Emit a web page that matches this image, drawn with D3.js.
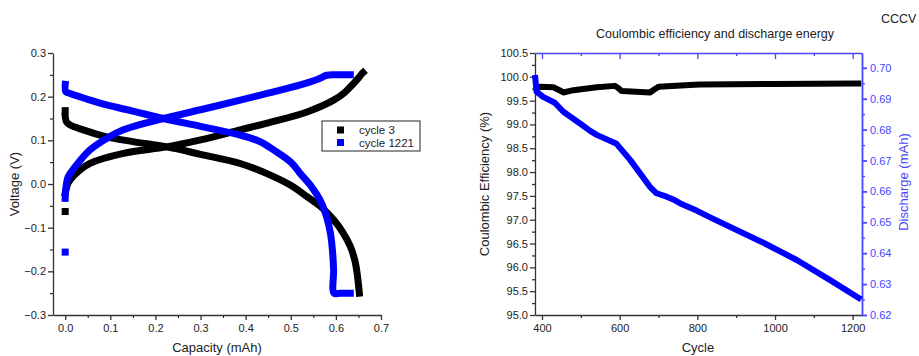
<!DOCTYPE html>
<html>
<head>
<meta charset="utf-8">
<script src="https://cdn.jsdelivr.net/npm/d3@7"></script>
<style>
  body { margin: 0; background: #fff; }
  svg text { font-family: "Liberation Sans", Arial, sans-serif; }
</style>
</head>
<body>
<div class="canvas"></div>
<script>
var width = 919,
    height = 356;

var svg = d3.select(".canvas").append("svg")
    .attr("width", width)
    .attr("height", height);

// ---- left chart data (capacity mAh / voltage V) ----
var c3ChargeCap = [0, 0.002, 0.007, 0.02, 0.055, 0.129, 0.225, 0.3, 0.388, 0.45, 0.536, 0.595, 0.62, 0.639, 0.652, 0.658, 0.66];
var c3ChargeV   = [-0.021, -0.012, 0.003, 0.02, 0.047, 0.070, 0.085, 0.101, 0.124, 0.140, 0.165, 0.192, 0.21, 0.230, 0.245, 0.253, 0.255];
var c3DisCap = [0, 0.003, 0.011, 0.04, 0.092, 0.15, 0.225, 0.3, 0.388, 0.462, 0.5, 0.536, 0.57, 0.595, 0.615, 0.632, 0.642, 0.647, 0.650, 0.652];
var c3DisV   = [0.155, 0.142, 0.135, 0.124, 0.108, 0.097, 0.085, 0.068, 0.047, 0.017, -0.003, -0.029, -0.055, -0.082, -0.110, -0.143, -0.175, -0.204, -0.230, -0.250];
var c3LoneCap = [0, 0];
var c3LoneV   = [-0.063, 0.168];

var c1221ChargeCap = [0, 0.002, 0.006, 0.011, 0.03, 0.055, 0.09, 0.129, 0.218, 0.3, 0.388, 0.45, 0.521, 0.56, 0.580, 0.6, 0.632];
var c1221ChargeV   = [-0.033, -0.005, 0.015, 0.024, 0.05, 0.078, 0.103, 0.124, 0.150, 0.170, 0.192, 0.208, 0.227, 0.240, 0.249, 0.25, 0.25];
var c1221DisCap = [0, 0.001, 0.011, 0.05, 0.092, 0.15, 0.218, 0.3, 0.388, 0.43, 0.462, 0.5, 0.521, 0.545, 0.565, 0.578, 0.588, 0.593, 0.595, 0.596, 0.61, 0.632];
var c1221DisV   = [0.228, 0.212, 0.207, 0.194, 0.181, 0.167, 0.150, 0.132, 0.112, 0.098, 0.078, 0.050, 0.024, -0.005, -0.037, -0.07, -0.113, -0.16, -0.197, -0.25, -0.25, -0.25];
var c1221LoneCap = [0];
var c1221LoneV   = [-0.156];

var legendLabels = ["cycle 3", "cycle 1221"];
var capTicks = [0, 0.1, 0.2, 0.3, 0.4, 0.5, 0.6, 0.7];
var voltTicks = [-0.3, -0.2, -0.1, 0, 0.1, 0.2, 0.3];

// ---- right chart data (cycle / CE % / discharge mAh) ----
var ceCycle = [382, 395, 429, 445, 455, 481, 541, 588, 597, 605, 678, 690, 700, 781, 807, 995, 1210, 1222];
var ceValue = [99.74, 99.79, 99.78, 99.72, 99.67, 99.72, 99.78, 99.81, 99.76, 99.70, 99.67, 99.74, 99.79, 99.83, 99.84, 99.85, 99.86, 99.86];
var disCycle = [382, 386, 403, 433, 455, 498, 524, 541, 592, 627, 678, 695, 721, 738, 755, 798, 841, 970, 1056, 1142, 1222];
var disValue = [0.6977, 0.6923, 0.6906, 0.6887, 0.6858, 0.6820, 0.6796, 0.6783, 0.6754, 0.6702, 0.6615, 0.6594, 0.6583, 0.6574, 0.6562, 0.6538, 0.6511, 0.6434, 0.6378, 0.6313, 0.6250];
var cycleTicks = [400, 600, 800, 1000, 1200];
var ceTicks = [95.0, 95.5, 96.0, 96.5, 97.0, 97.5, 98.0, 98.5, 99.0, 99.5, 100.0, 100.5];
var disTicks = [0.62, 0.63, 0.64, 0.65, 0.66, 0.67, 0.68, 0.69, 0.70];

var blueAxis = "#4646ff";

function zip(a, b) {
    return a.map(function (v, i) { return [v, b[i]]; });
}

// ================= left chart =================
var lx = d3.scaleLinear().domain([-0.027, 0.7]).range([53, 381]);
var ly = d3.scaleLinear().domain([-0.3, 0.3]).range([315, 53]);

var left = svg.append("g");

// minor ticks first
left.append("g")
    .attr("transform", "translate(0,315)")
    .call(d3.axisBottom(lx).tickValues(d3.range(0.05, 0.7, 0.1)).tickSize(3).tickFormat(""))
    .call(function (g) { g.select(".domain").remove(); });
left.append("g")
    .attr("transform", "translate(53,0)")
    .call(d3.axisLeft(ly).tickValues(d3.range(-0.25, 0.3, 0.1)).tickSize(3).tickFormat(""))
    .call(function (g) { g.select(".domain").remove(); });

var lxAxis = left.append("g")
    .attr("transform", "translate(0,315)")
    .call(d3.axisBottom(lx).tickValues(capTicks).tickSize(5).tickSizeOuter(0).tickFormat(d3.format(".1f")));
var lyAxis = left.append("g")
    .attr("transform", "translate(53,0)")
    .call(d3.axisLeft(ly).tickValues(voltTicks).tickSize(5).tickSizeOuter(0).tickFormat(d3.format(".1f")));

[lxAxis, lyAxis].forEach(function (g) {
    g.selectAll("path, line").attr("stroke", "#333").attr("stroke-width", 1.3);
    g.selectAll("text").attr("font-size", 11).attr("fill", "#222");
});
lyAxis.selectAll("text").attr("x", -7);
lxAxis.selectAll("text").attr("y", 9);

left.append("text")
    .attr("transform", "translate(19,184) rotate(-90)")
    .attr("text-anchor", "middle")
    .attr("font-size", 13)
    .attr("fill", "#222")
    .text("Voltage (V)");
left.append("text")
    .attr("x", 217).attr("y", 352)
    .attr("text-anchor", "middle")
    .attr("font-size", 13)
    .attr("fill", "#222")
    .text("Capacity (mAh)");

var capLine = d3.line()
    .x(function (d) { return lx(d[0]); })
    .y(function (d) { return ly(d[1]); })
    .curve(d3.curveCatmullRom.alpha(0.5));

var leftSeries = [
    { cap: c3ChargeCap, v: c3ChargeV, color: "#000" },
    { cap: c3DisCap, v: c3DisV, color: "#000" },
    { cap: c1221ChargeCap, v: c1221ChargeV, color: "#0000ff" },
    { cap: c1221DisCap, v: c1221DisV, color: "#0000ff" }
];
leftSeries.forEach(function (s) {
    left.append("path")
        .datum(zip(s.cap, s.v))
        .attr("d", capLine)
        .attr("fill", "none")
        .attr("stroke", s.color)
        .attr("stroke-width", 7)
        .attr("stroke-linecap", "square")
        .attr("stroke-linejoin", "round");
});

var lonePts = [
    { cap: c3LoneCap, v: c3LoneV, color: "#000" },
    { cap: c1221LoneCap, v: c1221LoneV, color: "#0000ff" }
];
lonePts.forEach(function (s) {
    left.selectAll(null)
        .data(zip(s.cap, s.v))
        .enter().append("rect")
        .attr("x", function (d) { return lx(d[0]) - 3.5; })
        .attr("y", function (d) { return ly(d[1]) - 3.5; })
        .attr("width", 7)
        .attr("height", 7)
        .attr("fill", s.color);
});

// legend
var legend = left.append("g").attr("transform", "translate(322,121)");
legend.append("rect")
    .attr("width", 98).attr("height", 30)
    .attr("fill", "#fff").attr("stroke", "#222").attr("stroke-width", 1);
legendLabels.forEach(function (lab, i) {
    legend.append("rect")
        .attr("x", 15).attr("y", 9 + i * 12.5 - 3.5)
        .attr("width", 7).attr("height", 7)
        .attr("fill", i == 0 ? "#000" : "#0000ff");
    legend.append("text")
        .attr("x", 37).attr("y", 9 + i * 12.5 + 4)
        .attr("font-size", 11.5)
        .attr("fill", "#222")
        .text(lab);
});

// ================= right chart =================
var rx = d3.scaleLinear().domain([382, 1224]).range([535, 862]);
var ryL = d3.scaleLinear().domain([95, 100.5]).range([315, 53]);
var ryR = d3.scaleLinear().domain([0.62, 0.7048]).range([315, 53]);

var right = svg.append("g");

// minor ticks
right.append("g")
    .attr("transform", "translate(0,315)")
    .call(d3.axisBottom(rx).tickValues([500, 700, 900, 1100]).tickSize(3).tickFormat(""))
    .call(function (g) { g.select(".domain").remove(); g.selectAll("line").attr("stroke", "#333").attr("stroke-width", 1.3); });
right.append("g")
    .attr("transform", "translate(0,53)")
    .call(d3.axisBottom(rx).tickValues([500, 700, 900, 1100]).tickSize(3).tickFormat(""))
    .call(function (g) { g.select(".domain").remove(); g.selectAll("line").attr("stroke", blueAxis).attr("stroke-width", 1.3); });
right.append("g")
    .attr("transform", "translate(535,0)")
    .call(d3.axisLeft(ryL).tickValues(d3.range(95.25, 100.5, 0.5)).tickSize(3).tickFormat(""))
    .call(function (g) { g.select(".domain").remove(); g.selectAll("line").attr("stroke", "#333").attr("stroke-width", 1.3); });
right.append("g")
    .attr("transform", "translate(862,0)")
    .call(d3.axisRight(ryR).tickValues(d3.range(0.625, 0.70, 0.01)).tickSize(3).tickFormat(""))
    .call(function (g) { g.select(".domain").remove(); g.selectAll("line").attr("stroke", blueAxis).attr("stroke-width", 1.3); });

// top axis (blue, inward ticks)
var rTop = right.append("g")
    .attr("transform", "translate(0,53)")
    .call(d3.axisBottom(rx).tickValues(cycleTicks).tickSize(6).tickSizeOuter(0).tickFormat(""));
rTop.selectAll("path, line").attr("stroke", blueAxis).attr("stroke-width", 1.3);

var rxAxis = right.append("g")
    .attr("transform", "translate(0,315)")
    .call(d3.axisBottom(rx).tickValues(cycleTicks).tickSize(5).tickSizeOuter(0).tickFormat(d3.format("d")));
var ryLAxis = right.append("g")
    .attr("transform", "translate(535,0)")
    .call(d3.axisLeft(ryL).tickValues(ceTicks).tickSize(5).tickSizeOuter(0).tickFormat(d3.format(".1f")));
var ryRAxis = right.append("g")
    .attr("transform", "translate(862,0)")
    .call(d3.axisRight(ryR).tickValues(disTicks).tickSize(5).tickSizeOuter(0).tickFormat(d3.format(".2f")));

[rxAxis, ryLAxis].forEach(function (g) {
    g.selectAll("path, line").attr("stroke", "#333").attr("stroke-width", 1.3);
    g.selectAll("text").attr("font-size", 11).attr("fill", "#222");
});
ryRAxis.selectAll("path, line").attr("stroke", blueAxis).attr("stroke-width", 1.8);
ryRAxis.selectAll("text").attr("font-size", 11).attr("fill", blueAxis).attr("x", 8);
ryLAxis.selectAll("text").attr("x", -7);
rxAxis.selectAll("text").attr("y", 9);

right.append("text")
    .attr("transform", "translate(489,184) rotate(-90)")
    .attr("text-anchor", "middle")
    .attr("font-size", 13)
    .attr("fill", "#222")
    .text("Coulombic Efficiency (%)");
right.append("text")
    .attr("transform", "translate(908,182) rotate(-90)")
    .attr("text-anchor", "middle")
    .attr("font-size", 13)
    .attr("fill", blueAxis)
    .text("Discharge (mAh)");
right.append("text")
    .attr("x", 698).attr("y", 352)
    .attr("text-anchor", "middle")
    .attr("font-size", 13)
    .attr("fill", "#222")
    .text("Cycle");
right.append("text")
    .attr("x", 715).attr("y", 38)
    .attr("text-anchor", "middle")
    .attr("font-size", 12.5)
    .attr("fill", "#222")
    .text("Coulombic efficiency and discharge energy");
svg.append("text")
    .attr("x", 881).attr("y", 23)
    .attr("font-size", 12.5)
    .attr("fill", "#222")
    .text("CCCV");

var ceLine = d3.line()
    .x(function (d) { return rx(d[0]); })
    .y(function (d) { return ryL(d[1]); });
var disLine = d3.line()
    .x(function (d) { return rx(d[0]); })
    .y(function (d) { return ryR(d[1]); });

right.append("path")
    .datum(zip(ceCycle, ceValue))
    .attr("d", ceLine)
    .attr("fill", "none")
    .attr("stroke", "#000")
    .attr("stroke-width", 6)
    .attr("stroke-linejoin", "round");
right.append("path")
    .datum(zip(disCycle, disValue))
    .attr("d", disLine)
    .attr("fill", "none")
    .attr("stroke", "#0000ff")
    .attr("stroke-width", 6)
    .attr("stroke-linejoin", "round");
</script>
</body>
</html>
